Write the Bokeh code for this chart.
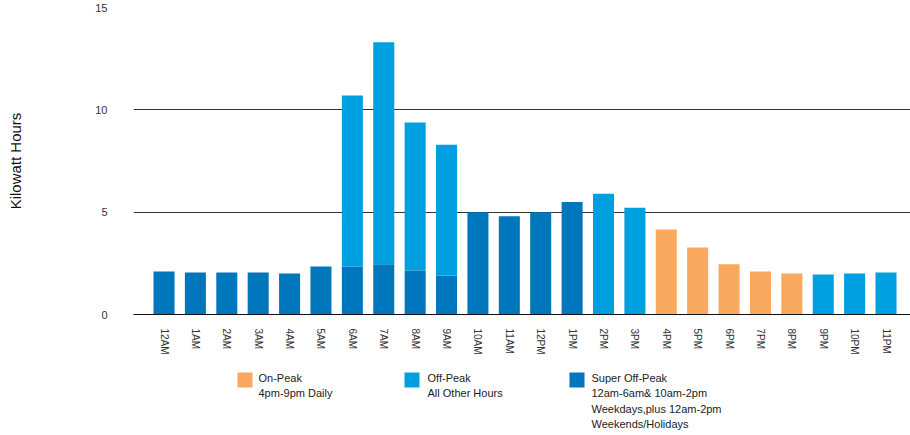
from bokeh.plotting import figure
from bokeh.models import Range1d, FixedTicker, ColumnDataSource
from bokeh.layouts import column
from bokeh.core.properties import value
from bokeh.embed import file_html
from bokeh.resources import INLINE

# ---------------- data ----------------
hours = ["12AM", "1AM", "2AM", "3AM", "4AM", "5AM", "6AM", "7AM", "8AM", "9AM",
         "10AM", "11AM", "12PM", "1PM", "2PM", "3PM", "4PM", "5PM", "6PM", "7PM",
         "8PM", "9PM", "10PM", "11PM"]
super_off_peak = [2.1, 2.05, 2.05, 2.05, 2.0, 2.35, 2.35, 2.45, 2.15, 1.9,
                  5.0, 4.8, 5.0, 5.5, 0, 0, 0, 0, 0, 0, 0, 0, 0, 0]
off_peak = [0, 0, 0, 0, 0, 0, 8.35, 10.85, 7.23, 6.4,
            0, 0, 0, 0, 5.9, 5.22, 0, 0, 0, 0, 0, 1.95, 2.0, 2.05]
on_peak = [0, 0, 0, 0, 0, 0, 0, 0, 0, 0,
           0, 0, 0, 0, 0, 0, 4.15, 3.27, 2.45, 2.1, 2.0, 0, 0, 0]
y_ticks = [0, 5, 10, 15]

legend_names = ["On-Peak", "Off-Peak", "Super Off-Peak"]
legend_details = [["4pm-9pm Daily"],
                  ["All Other Hours"],
                  ["12am-6am& 10am-2pm", "Weekdays,plus 12am-2pm", "Weekends/Holidays"]]

# ---------------- style ----------------
C_ON = "#F8A85F"
C_OFF = "#009FE0"
C_SUPER = "#0077BD"
FONT = "Liberation Sans"

W = 910
x = list(range(len(hours)))
src = ColumnDataSource(dict(x=x, super_off=super_off_peak, off=off_peak, on=on_peak))

p = figure(width=W, height=360, output_backend="svg", toolbar_location=None,
           x_range=Range1d(-0.972, 23.78), y_range=Range1d(0, 15),
           min_border_left=133, min_border_right=0, min_border_top=7,
           min_border_bottom=46)
p.outline_line_color = None

p.vbar_stack(["super_off", "off", "on"], x="x", width=0.67, source=src,
             color=[C_SUPER, C_OFF, C_ON], line_color=None)

# axes
p.yaxis.ticker = FixedTicker(ticks=y_ticks)
p.yaxis.axis_line_color = None
p.yaxis.major_tick_line_color = None
p.yaxis.minor_tick_line_color = None
p.yaxis.major_label_standoff = 20
p.yaxis.major_label_text_font = FONT
p.yaxis.major_label_text_font_size = "11px"
p.yaxis.major_label_text_color = "#333333"
p.yaxis.axis_label = "Kilowatt Hours"
p.yaxis.axis_label_text_font = FONT
p.yaxis.axis_label_text_font_size = "15px"
p.yaxis.axis_label_text_font_style = "normal"
p.yaxis.axis_label_text_color = "#111111"
p.yaxis.axis_label_standoff = 68

p.xaxis.ticker = FixedTicker(ticks=x)
p.xaxis.major_label_overrides = {i: h for i, h in enumerate(hours)}
p.xaxis.major_label_orientation = "vertical"
p.xaxis.major_tick_line_color = None
p.xaxis.minor_tick_line_color = None
p.xaxis.axis_line_color = "#111111"
p.xaxis.axis_line_width = 1.2
p.xaxis.major_label_standoff = 8
p.xaxis.major_label_text_font = FONT
p.xaxis.major_label_text_font_size = "10px"
p.xaxis.major_label_text_color = "#333333"

p.xgrid.grid_line_color = None
p.ygrid.grid_line_color = "#333333"
p.ygrid.grid_line_width = 1

# ---------------- legend panel ----------------
LG_TOP, LG_H = 360, 74
lg = figure(width=W, height=LG_H, output_backend="svg", toolbar_location=None,
            x_range=Range1d(133, W), y_range=Range1d(LG_TOP + LG_H, LG_TOP),
            min_border_left=133, min_border_right=0,
            min_border_top=0, min_border_bottom=0)
lg.outline_line_color = None
lg.axis.visible = False
lg.grid.visible = False

sq_left = [237, 404, 569]
txt_left = [258, 427, 591]
colors = [C_ON, C_OFF, C_SUPER]
lg.quad(left=sq_left, right=[v + 15 for v in sq_left],
        top=[372] * 3, bottom=[387] * 3, color=colors, line_color=None)

tx, ty, tt = [], [], []
line_y = [377, 392.5, 408, 423]
for i, name in enumerate(legend_names):
    lines = [name] + legend_details[i]
    for j, t in enumerate(lines):
        tx.append(txt_left[i])
        ty.append(line_y[j])
        tt.append(t)
lg.text(x=tx, y=ty, text=tt, text_font=value(FONT), text_font_size="11px",
        text_color="#222222", text_baseline="middle", text_align="left")

layout = column(p, lg, spacing=0)
open("out.html", "w").write(file_html(layout, INLINE))
